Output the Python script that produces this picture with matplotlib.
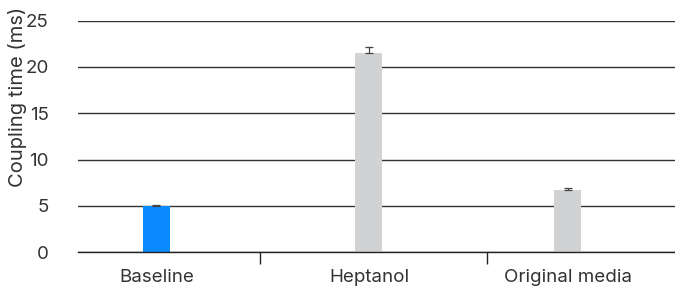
import numpy as np
import matplotlib
matplotlib.use('Agg')
import matplotlib.pyplot as plt

categories = ['Baseline', 'Heptanol', 'Original media']
means = [5.0, 21.55, 6.7]
errors = [0.12, 0.65, 0.25]
bar_colors = ['#0a8bff', '#d1d2d4', '#d1d2d4']

# layout: bar centres and category boundary ticks (in category units)
x_pos = [0.0, 1.0, 1.936]
boundaries = [0.487, 1.555]

plt.rcParams['font.family'] = ['Inter', 'DejaVu Sans']
TEXT = '#333333'

fig = plt.figure(figsize=(6.75, 2.87), dpi=100)
ax = fig.add_axes([0.1156, 0.121, 0.8844, 0.807])

ax.bar(x_pos, means, width=0.127, color=bar_colors, zorder=3)
ax.errorbar(x_pos, means, yerr=[np.zeros(len(means)), errors], fmt='none',
            ecolor='#444444', elinewidth=0.9, capsize=3, capthick=0.9, zorder=4)

ax.set_ylim(0, 25)
ax.set_xlim(-0.369, 2.44)
ax.set_yticks(np.arange(0, 26, 5))
ax.grid(axis='y', color='#333333', linewidth=1.0, zorder=1)
for s in ['top', 'right', 'left']:
    ax.spines[s].set_visible(False)
ax.spines['bottom'].set_color('#222222')
ax.spines['bottom'].set_linewidth(1.0)
ax.spines['bottom'].set_zorder(5)

ax.set_xticks(x_pos)
ax.set_xticklabels(categories)
ax.tick_params(axis='x', which='major', length=0, pad=12, labelsize=13.5, labelcolor=TEXT)
ax.set_xticks(boundaries, minor=True)
ax.tick_params(axis='x', which='minor', length=8.6, width=1.0, color='#222222', direction='out')
ax.tick_params(axis='y', length=0, pad=21, labelsize=13.5, labelcolor=TEXT)

fig.text(18 / 675, 1 - 97 / 287, 'Coupling time (ms)', rotation=90, ha='center', va='center',
         fontsize=14.5, color=TEXT)

fig.savefig('out.png', dpi=100)
